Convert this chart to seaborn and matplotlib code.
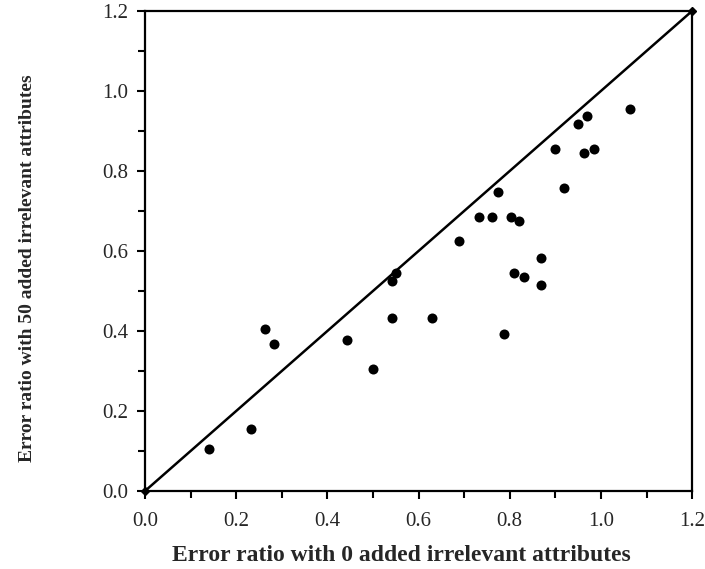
import matplotlib
matplotlib.use("Agg")
import matplotlib.pyplot as plt
from matplotlib.ticker import MultipleLocator, FormatStrFormatter
import pandas as pd
import seaborn as sns

sns.set_style("ticks")
plt.rcParams["font.family"] = ["Liberation Serif", "DejaVu Serif"]

# error ratios
err_0 = [0.140, 0.233, 0.263, 0.284, 0.442, 0.499, 0.542, 0.551, 0.542, 0.629,
         0.688, 0.732, 0.760, 0.774, 0.802, 0.820, 0.788, 0.809, 0.831, 0.869,
         0.869, 0.900, 0.920, 0.949, 0.970, 0.962, 0.984, 1.063]
err_50 = [0.105, 0.155, 0.406, 0.367, 0.377, 0.304, 0.526, 0.545, 0.433, 0.433,
          0.626, 0.684, 0.684, 0.747, 0.685, 0.674, 0.393, 0.544, 0.534, 0.582,
          0.515, 0.854, 0.757, 0.918, 0.937, 0.844, 0.854, 0.956]
diag = [0.0, 1.2]

df = pd.DataFrame({"x": err_0, "y": err_50})

fig = plt.figure(figsize=(7.05, 5.69), dpi=100)
ax = fig.add_axes([0.2057, 0.1371, 0.776, 0.8436])

ax.plot(diag, diag, color="black", lw=1.8, marker="D", ms=4, clip_on=False, zorder=3)
sns.scatterplot(data=df, x="x", y="y", ax=ax, color="black", s=52,
                edgecolor="black", linewidth=0, zorder=4)

ax.set_xlim(0, 1.2)
ax.set_ylim(0, 1.2)
ax.xaxis.set_major_locator(MultipleLocator(0.2))
ax.xaxis.set_minor_locator(MultipleLocator(0.1))
ax.yaxis.set_major_locator(MultipleLocator(0.2))
ax.yaxis.set_minor_locator(MultipleLocator(0.1))
ax.xaxis.set_major_formatter(FormatStrFormatter("%.1f"))
ax.yaxis.set_major_formatter(FormatStrFormatter("%.1f"))

for s in ax.spines.values():
    s.set_linewidth(1.6)
    s.set_color("black")
ax.tick_params(which="both", direction="out", width=1.5, color="black",
               top=False, right=False, labelsize=15)
ax.tick_params(which="major", length=6)
ax.tick_params(which="minor", length=5)
ax.tick_params(axis="x", which="major", pad=9)
ax.tick_params(axis="y", which="major", pad=6)

ax.set_xlabel("Error ratio with 0 added irrelevant attributes",
              fontsize=17, fontweight="bold")
ax.xaxis.set_label_coords(0.468, -0.112)
ax.set_ylabel("Error ratio with 50 added irrelevant attributes",
              fontsize=14, fontweight="bold")
ax.yaxis.set_label_coords(-0.200, 0.465)

fig.savefig("out.png", dpi=100)
